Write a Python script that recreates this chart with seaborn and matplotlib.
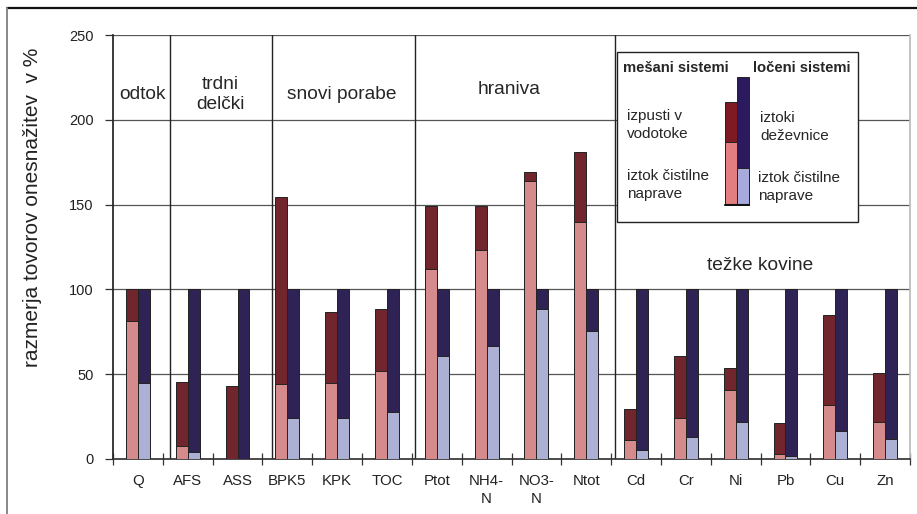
import pandas as pd
import matplotlib.pyplot as plt
import seaborn as sns
from matplotlib.lines import Line2D
from matplotlib.patches import Rectangle

# ---- data ----
categories = ["Q", "AFS", "ASS", "BPK5", "KPK", "TOC", "Ptot", "NH4-\nN", "NO3-\nN", "Ntot",
              "Cd", "Cr", "Ni", "Pb", "Cu", "Zn"]
# mixed systems: outflow of treatment plant (bottom) and total incl. discharges to streams
mixed_plant = [81.5, 7.5, 0, 44, 45, 52, 112, 123, 164, 139.5, 11, 24, 40.5, 3, 32, 22]
mixed_total = [100, 45.5, 43, 154.5, 86.5, 88.5, 149, 149, 169, 181, 29.5, 60.5, 53.5, 21.5, 85, 51]
# separate systems: outflow of treatment plant (bottom) and total incl. storm water outflows
sep_plant = [45, 4, 0, 24, 24, 28, 60.5, 66.5, 88.5, 75.5, 5.5, 13, 22, 1.5, 16.5, 12]
sep_total = [100] * 16

groups = ["odtok", "trdni\ndelčki", "snovi porabe", "hraniva", "težke kovine"]
dividers = [0.64, 2.69, 5.56, 9.58]
yticks = [0, 50, 100, 150, 200, 250]

c_pink = "#e27d80"
c_darkred = "#7d1a24"
c_navy = "#2b1b5e"
c_lightblue = "#a6aadc"

df_total = pd.DataFrame({
    "cat": categories * 2,
    "sys": ["mixed"] * 16 + ["sep"] * 16,
    "val": mixed_total + sep_total,
})
df_plant = pd.DataFrame({
    "cat": categories * 2,
    "sys": ["mixed"] * 16 + ["sep"] * 16,
    "val": mixed_plant + sep_plant,
})

sns.set_theme(style="white")
plt.rcParams["font.family"] = ["Liberation Sans", "DejaVu Sans"]

fig = plt.figure(figsize=(9.17, 5.14), dpi=100)
ax = fig.add_axes([113 / 917, 1 - 459 / 514, (910 - 113) / 917, (459 - 35) / 514])

sns.barplot(data=df_total, x="cat", y="val", hue="sys", order=categories,
            palette={"mixed": c_darkred, "sep": c_navy}, width=0.48, gap=0,
            edgecolor="#222222", linewidth=0.7, legend=False, ax=ax, zorder=3)
sns.barplot(data=df_plant, x="cat", y="val", hue="sys", order=categories,
            palette={"mixed": c_pink, "sep": c_lightblue}, width=0.48, gap=0,
            edgecolor="#222222", linewidth=0.7, legend=False, ax=ax, zorder=4)

ax.set_ylim(0, 250)
ax.set_xlim(-0.5, 15.5)
ax.set_yticks(yticks)
ax.set_yticklabels([str(v) for v in yticks], fontsize=10.5, color="#222222")
ax.set_xticks(range(16))
ax.set_xticklabels(categories, fontsize=10.8, color="#222222", linespacing=1.3)
ax.set_xticks([i + 0.5 for i in range(-1, 16)], minor=True)
ax.tick_params(axis="x", which="major", bottom=True, length=0, pad=11)
ax.tick_params(axis="x", which="minor", bottom=True, length=8, direction="inout",
               width=0.9, color="#333333")
ax.tick_params(axis="y", left=True, length=6, direction="out", width=0.9,
               color="#333333", pad=8)
ax.set_xlabel("")
ax.set_ylabel("razmerja tovorov onesnažitev  v %", fontsize=15, color="#222222")
ax.yaxis.set_label_coords(-0.089, 0.594)

for y in yticks[1:]:
    ax.axhline(y, color="#555555", lw=0.9, zorder=1)
for x in dividers:
    ax.axvline(x, color="#222222", lw=1.0, zorder=2)

ax.spines["top"].set_visible(False)
ax.spines["left"].set_color("#222222")
ax.spines["bottom"].set_color("#333333")
ax.spines["right"].set_visible(True)
ax.spines["right"].set_color("#bbbbbb")
ax.spines["right"].set_linestyle((0, (1, 1)))

# group titles
ax.text(0.1, 215, groups[0], ha="center", va="center", fontsize=13.8)
ax.text(1.65, 215, groups[1], ha="center", va="center", fontsize=13.8, linespacing=1.2)
ax.text(4.1, 215, groups[2], ha="center", va="center", fontsize=13.8)
ax.text(7.45, 218, groups[3], ha="center", va="center", fontsize=13.8)
ax.text(12.5, 114, groups[4], ha="center", va="center", fontsize=13.8)

# legend box
fx = lambda px: px / 917
fy = lambda py: 1 - py / 514
fig.add_artist(Rectangle((fx(617), fy(222)), fx(858) - fx(617), fy(52) - fy(222),
                         transform=fig.transFigure, fill=True, facecolor="white",
                         edgecolor="#222222", lw=1.0, zorder=5))
lax = fig.add_axes([fx(722), fy(206), fx(752) - fx(722), fy(77) - fy(206)], zorder=6)
lax.patch.set_alpha(0)
lax.bar([0, 1], [103, 128], width=1, align="edge", color=[c_darkred, c_navy],
        edgecolor="#222222", linewidth=0.7)
lax.bar([0, 1], [63, 37], width=1, align="edge", color=[c_pink, c_lightblue],
        edgecolor="#222222", linewidth=0.7)
lax.axhline(0, xmin=0.1, xmax=0.9, color="#111111", lw=1.5)
lax.set_xlim(-0.25, 2.25)
lax.set_ylim(-1, 128)
lax.axis("off")

fig.text(fx(623), fy(68), "mešani sistemi", fontsize=10.6, weight="bold", va="center", zorder=7)
fig.text(fx(753), fy(68), "ločeni sistemi", fontsize=10.6, weight="bold", va="center", zorder=7)
fig.text(fx(627), fy(125), "izpusti v\nvodotoke", fontsize=11, va="center", linespacing=1.3, zorder=7)
fig.text(fx(627), fy(185), "iztok čistilne\nnaprave", fontsize=11, va="center", linespacing=1.3, zorder=7)
fig.text(fx(760), fy(127), "iztoki\ndeževnice", fontsize=11, va="center", linespacing=1.3, zorder=7)
fig.text(fx(758), fy(187), "iztok čistilne\nnaprave", fontsize=11, va="center", linespacing=1.3, zorder=7)

# outer frame of the figure
fig.add_artist(Line2D([fx(7), 1], [fy(8), fy(8)], color="#111111", lw=1.6))
fig.add_artist(Line2D([fx(7), fx(7)], [fy(8), 0], color="#888888", lw=1.4))

fig.savefig("out.png", dpi=100)
plt.close()
